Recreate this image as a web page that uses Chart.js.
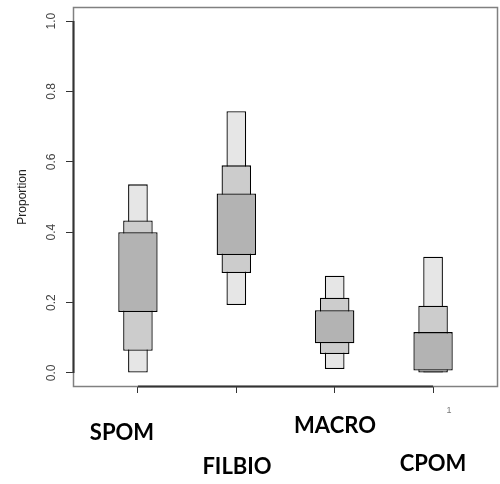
<!DOCTYPE html>
<html>
<head>
<meta charset="utf-8">
<script src="https://cdn.jsdelivr.net/npm/chart.js@4"></script>
<style>
  html, body { margin: 0; padding: 0; background: #fff; }
  #wrap { width: 500px; height: 484px; }
</style>
</head>
<body>
<div id="wrap"><canvas id="proporcoes"></canvas></div>
<script>
const sources = ['SPOM', 'FILBIO', 'MACRO', 'CPOM']
const xPos = [1, 2, 3, 4]
const yTicks = [0, 0.2, 0.4, 0.6, 0.8, 1.0]

// intervalos de credibilidade (95%, 75%, 50%)
const low95 = [0.000, 0.193, 0.011, 0.000]
const high95 = [0.536, 0.744, 0.276, 0.330]
const low75 = [0.063, 0.284, 0.054, 0.001]
const high75 = [0.433, 0.590, 0.214, 0.191]
const low50 = [0.173, 0.335, 0.084, 0.007]
const high50 = [0.400, 0.510, 0.178, 0.116]

function faixa(lo, hi) {
    return xPos.map((x, i) => ({ x: x, y: [lo[i], hi[i]] }))
}

// rotulos das fontes, posicionados como na figura original
const labelSpots = [[122, 433], [237, 467], [335, 426], [433, 464]]

const moldura = {
    id: 'moldura',
    afterDraw(chart) {
        const ctx = chart.ctx
        const a = chart.chartArea
        const xs = chart.scales.x
        const ys = chart.scales.y
        ctx.save()
        // caixa em cinza
        ctx.strokeStyle = '#808080'
        ctx.lineWidth = 1.5
        ctx.strokeRect(a.left + 0.5, a.top + 0.5, a.right - a.left - 1, a.bottom - a.top - 1)
        // linhas dos eixos
        ctx.strokeStyle = '#333'
        ctx.lineWidth = 2
        ctx.beginPath()
        ctx.moveTo(xs.getPixelForValue(1), a.bottom - 0.5)
        ctx.lineTo(xs.getPixelForValue(4), a.bottom - 0.5)
        ctx.moveTo(a.left + 0.5, ys.getPixelForValue(0))
        ctx.lineTo(a.left + 0.5, ys.getPixelForValue(1))
        ctx.stroke()

        // rotulos do eixo y, girados
        ctx.fillStyle = '#444'
        ctx.font = '12px "Liberation Sans", Arial, sans-serif'
        ctx.textAlign = 'center'
        ctx.textBaseline = 'middle'
        yTicks.forEach(v => {
            ctx.save()
            ctx.translate(52, ys.getPixelForValue(v))
            ctx.rotate(-Math.PI / 2)
            ctx.fillText(v.toFixed(1), 0, 0)
            ctx.restore()
        })
        ctx.save()
        ctx.translate(23, 197)
        ctx.rotate(-Math.PI / 2)
        ctx.font = '12px "Liberation Sans", Arial, sans-serif'
        ctx.fillStyle = '#222'
        ctx.fillText('Proportion', 0, 0)
        ctx.restore()

        // nomes das fontes
        ctx.fillStyle = '#000'
        ctx.font = 'bold 22px Lato, sans-serif'
        sources.forEach((s, i) => {
            ctx.fillText(s, labelSpots[i][0], labelSpots[i][1])
        })
        ctx.fillStyle = '#777'
        ctx.font = '9px "Liberation Sans", Arial, sans-serif'
        ctx.fillText('1', 449, 411)
        ctx.restore()
    }
}

document.addEventListener('DOMContentLoaded', function () {
    const canvas = document.getElementById('proporcoes')

    const data = {
        datasets: [{
            label: '50%',
            data: faixa(low50, high50),
            backgroundColor: '#b3b3b3',
            barPercentage: 0.4,
            order: 1
        }, {
            label: '75%',
            data: faixa(low75, high75),
            backgroundColor: '#cccccc',
            barPercentage: 0.3,
            order: 2
        }, {
            label: '95%',
            data: faixa(low95, high95),
            backgroundColor: '#e6e6e6',
            barPercentage: 0.2,
            order: 3
        }]
    }

    const config = {
        type: 'bar',
        data: data,
        options: {
            responsive: true,
            maintainAspectRatio: false,
            animation: false,
            layout: { padding: { top: 7, right: 2, left: 0, bottom: 0 } },
            datasets: {
                bar: {
                    grouped: false,
                    categoryPercentage: 1,
                    borderColor: '#000',
                    borderWidth: 1.3,
                    borderSkipped: false
                }
            },
            plugins: {
                legend: { display: false },
                tooltip: { enabled: false }
            },
            scales: {
                x: {
                    type: 'linear',
                    min: 0.34,
                    max: 4.66,
                    offset: false,
                    afterBuildTicks: s => { s.ticks = xPos.map(v => ({ value: v })) },
                    afterFit: s => { s.height = 97 },
                    ticks: { display: false },
                    border: { display: false },
                    grid: { offset: false, drawOnChartArea: false, tickLength: 6, color: '#333' }
                },
                y: {
                    min: -0.04,
                    max: 1.04,
                    afterBuildTicks: s => { s.ticks = yTicks.map(v => ({ value: v })) },
                    afterFit: s => { s.width = 73 },
                    ticks: { display: false },
                    border: { display: false },
                    grid: { drawOnChartArea: false, tickLength: 7, color: '#333' }
                }
            }
        },
        plugins: [moldura]
    }

    new Chart(canvas, config)
})
</script>
</body>
</html>
